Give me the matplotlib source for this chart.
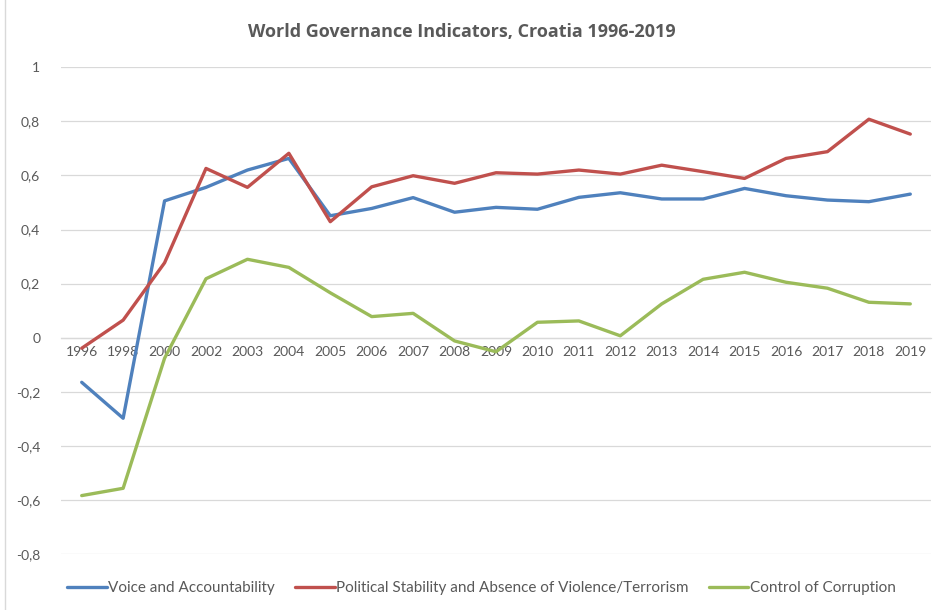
import matplotlib
matplotlib.use('Agg')
import matplotlib.pyplot as plt
from matplotlib.ticker import FuncFormatter, MultipleLocator
from matplotlib.lines import Line2D

years = ['1996', '1998', '2000', '2002', '2003', '2004', '2005', '2006',
         '2007', '2008', '2009', '2010', '2011', '2012', '2013', '2014',
         '2015', '2016', '2017', '2018', '2019']

voice = [-0.165, -0.298, 0.506, 0.556, 0.620, 0.663, 0.451, 0.478,
         0.518, 0.464, 0.482, 0.475, 0.519, 0.536, 0.513, 0.513,
         0.552, 0.525, 0.509, 0.503, 0.531]

stability = [-0.039, 0.065, 0.277, 0.626, 0.556, 0.682, 0.429, 0.558,
             0.599, 0.571, 0.610, 0.605, 0.620, 0.605, 0.638, 0.614,
             0.589, 0.663, 0.688, 0.808, 0.753]

corruption = [-0.584, -0.557, -0.076, 0.218, 0.290, 0.260, 0.166, 0.078,
              0.090, -0.012, -0.052, 0.057, 0.062, 0.007, 0.125, 0.216,
              0.242, 0.205, 0.183, 0.131, 0.125]

series = [
    ('Voice and Accountability', voice, '#4F81BD'),
    ('Political Stability and Absence of Violence/Terrorism', stability, '#C0504D'),
    ('Control of Corruption', corruption, '#9BBB59'),
]

plt.rcParams['font.family'] = ['Lato', 'DejaVu Sans']
text_col = '#595959'
grid_col = '#D9D9D9'

W, H, dpi = 946, 610, 100
fig = plt.figure(figsize=(W / dpi, H / dpi), dpi=dpi)
ax = fig.add_axes([61 / W, 1 - 554 / H, 870 / W, (554 - 67.3) / H])

x = range(len(years))
for name, vals, col in series:
    ax.plot(x, vals, color=col, lw=2.4, label=name, solid_joinstyle='round',
            solid_capstyle='round', zorder=3)

ax.set_xlim(-0.5, len(years) - 0.5)
ax.set_ylim(-0.8, 1.0)
ax.yaxis.set_major_locator(MultipleLocator(0.2))

def fmt_comma(v, pos):
    v = round(v, 1)
    if v == int(v):
        return '{:d}'.format(int(v))
    return '{:.1f}'.format(v).replace('.', ',')

ax.yaxis.set_major_formatter(FuncFormatter(fmt_comma))
ax.grid(axis='y', color=grid_col, lw=0.9, zorder=0)
ax.set_axisbelow(True)

for side in ['top', 'right', 'left']:
    ax.spines[side].set_visible(False)
# category axis crosses at zero
ax.spines['bottom'].set_position(('data', 0))
ax.spines['bottom'].set_color(grid_col)
ax.spines['bottom'].set_linewidth(0.9)

ax.set_xticks(list(x))
ax.set_xticklabels(years)
ax.tick_params(axis='x', length=0, pad=6, labelsize=10, labelcolor=text_col)
ax.tick_params(axis='y', length=0, pad=15, labelsize=10, labelcolor=text_col)

fig.text(0.488, 1 - 32 / H, 'World Governance Indicators, Croatia 1996-2019',
         ha='center', va='center', fontsize=13, fontweight='bold',
         family=['Open Sans', 'DejaVu Sans'], color=text_col)

leg = fig.legend(loc='center', bbox_to_anchor=(0.509, 1 - 588 / H), ncol=3,
                 frameon=False, fontsize=11, handlelength=2.6, handletextpad=0.1,
                 columnspacing=1.3)
for t in leg.get_texts():
    t.set_color(text_col)

# chart area border on the left edge
fig.add_artist(Line2D([5 / W, 5 / W], [0, 1], transform=fig.transFigure,
                      color='#D9D9D9', lw=1))

fig.savefig('out.png', dpi=dpi)
